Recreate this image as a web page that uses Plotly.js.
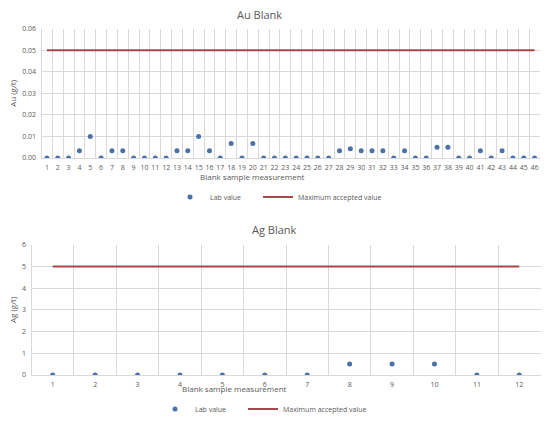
<!DOCTYPE html>
<html><head><meta charset="utf-8">
<script src="https://cdn.plot.ly/plotly-3.0.1.min.js"></script>
<style>html,body{margin:0;padding:0;background:#fff}#c{width:550px;height:424px}</style>
</head><body><div id="c"></div>
<script>
const auSamples = [1,2,3,4,5,6,7,8,9,10,11,12,13,14,15,16,17,18,19,20,21,22,23,24,25,26,27,28,29,30,31,32,33,34,35,36,37,38,39,40,41,42,43,44,45,46];
const auValues = [0,0,0,0.0033,0.01,0,0.0033,0.0033,0,0,0,0,0.0033,0.0033,0.01,0.0033,0,0.0067,0,0.0067,0,0,0,0,0,0,0,0.0033,0.0043,0.0033,0.0033,0.0033,0,0.0033,0,0,0.005,0.005,0,0,0.0033,0,0.0033,0,0,0];
const auLimit = 0.05;
const agSamples = [1,2,3,4,5,6,7,8,9,10,11,12];
const agValues = [0,0,0,0,0,0,0,0.5,0.5,0.5,0,0];
const agLimit = 5;
const auYTicks = [0,0.01,0.02,0.03,0.04,0.05,0.06];
const agYTicks = [0,1,2,3,4,5,6];

const blue = '#4a72a8', red = '#a8474b', grid = '#d9d9d9', txt = '#595959';
const F = "'Open Sans', 'Liberation Sans', sans-serif";

const traces = [
  {x: auSamples, y: auValues, type:'scatter', mode:'markers', name:'Lab value',
   marker:{color:blue, size:5}, xaxis:'x', yaxis:'y', legend:'legend'},
  {x: [auSamples[0], auSamples[auSamples.length-1]], y:[auLimit, auLimit], type:'scatter', mode:'lines',
   name:'Maximum accepted value', line:{color:red, width:2}, xaxis:'x', yaxis:'y', legend:'legend3'},
  {x: agSamples, y: agValues, type:'scatter', mode:'markers', name:'Lab value',
   marker:{color:blue, size:5}, xaxis:'x2', yaxis:'y2', legend:'legend2'},
  {x: [agSamples[0], agSamples[agSamples.length-1]], y:[agLimit, agLimit], type:'scatter', mode:'lines',
   name:'Maximum accepted value', line:{color:red, width:2}, xaxis:'x2', yaxis:'y2', legend:'legend4'}
];

function xax(samples, domain, anchor){
  return {domain: domain, anchor: anchor, range:[0.5, samples.length+0.5],
    tickmode:'array', tickvals: samples, ticktext: samples.map(String),
    showgrid:false, zeroline:false, showline:true, linecolor:grid, linewidth:1,
    ticks:'outside', ticklen:3, tickcolor:'rgba(0,0,0,0)', tickfont:{size:7, color:txt, family:F},
    minor:{tick0:0.5, dtick:1, showgrid:true, gridcolor:grid, gridwidth:1, ticks:''},
    fixedrange:true};
}
function yax(ticks, domain, anchor, fmt, title){
  return {domain: domain, anchor: anchor, range:[ticks[0], ticks[ticks.length-1]],
    tickmode:'array', tickvals: ticks, tickformat: fmt,
    showgrid:true, gridcolor:grid, gridwidth:1, zeroline:false, showline:true, linecolor:grid,
    tickfont:{size:7, color:txt, family:F}, ticks:'outside', ticklen:3, tickcolor:'rgba(0,0,0,0)',
    title:{text:title, font:{size:8, color:txt, family:F}, standoff:4},
    fixedrange:true};
}
function leg(x, y){
  return {orientation:'h', x:x/550, y:1-y/424, xanchor:'left', yanchor:'middle',
    font:{size:7, color:txt, family:F}, bgcolor:'rgba(0,0,0,0)', itemwidth:30};
}

const layout = {
  width:550, height:424, margin:{l:0,r:0,t:0,b:0},
  paper_bgcolor:'#fff', plot_bgcolor:'#fff', showlegend:true,
  font:{family:F, color:txt},
  xaxis: xax(auSamples, [41.5/550, 540/550], 'y'),
  yaxis: yax(auYTicks, [1-158.7/424, 1-29/424], 'x', '.2f', 'Au (g/t)'),
  xaxis2: xax(agSamples, [31.5/550, 540.5/550], 'y2'),
  yaxis2: yax(agYTicks, [1-376.7/424, 1-246/424], 'x2', 'd', 'Ag (g/t)'),
  legend: leg(170, 198),
  legend3: leg(258, 198),
  legend2: leg(155, 411),
  legend4: leg(243, 411),
  annotations:[
    {text:'Au Blank', xref:'paper', yref:'paper', x:259/550, y:1-15/424, showarrow:false,
     font:{size:11, color:txt, family:F}, xanchor:'center', yanchor:'middle'},
    {text:'Blank sample measurement', xref:'paper', yref:'paper', x:252/550, y:1-177/424, showarrow:false,
     font:{size:8, color:txt, family:F}, xanchor:'center', yanchor:'middle'},
    {text:'Ag Blank', xref:'paper', yref:'paper', x:274/550, y:1-231/424, showarrow:false,
     font:{size:11, color:txt, family:F}, xanchor:'center', yanchor:'middle'},
    {text:'Blank sample measurement', xref:'paper', yref:'paper', x:234/550, y:1-390/424, showarrow:false,
     font:{size:8, color:txt, family:F}, xanchor:'center', yanchor:'middle'}
  ]
};
Plotly.newPlot('c', traces, layout, {displayModeBar:false, staticPlot:true});
</script></body></html>
